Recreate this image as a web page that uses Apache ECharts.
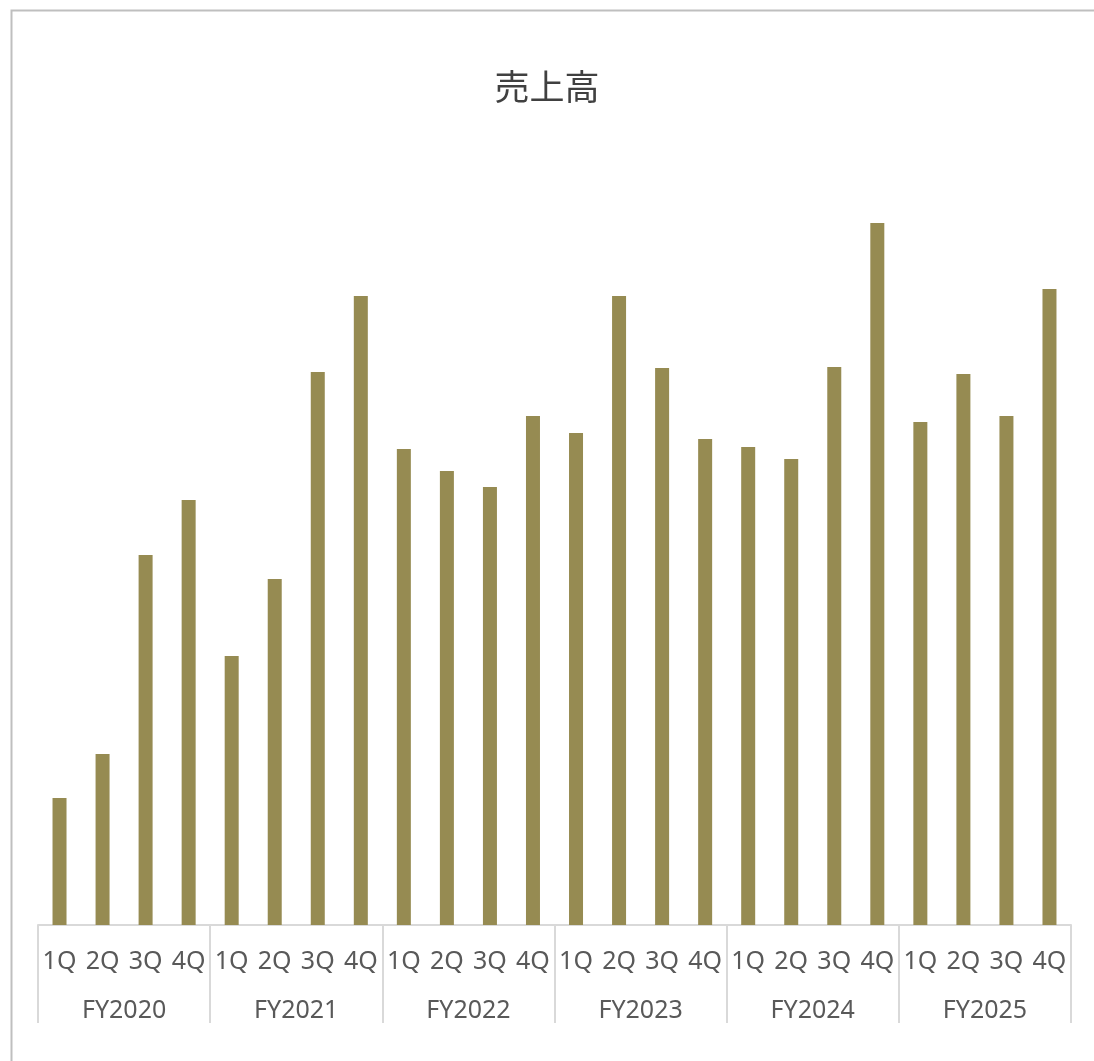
<!DOCTYPE html>
<html>
<head>
<meta charset="utf-8">
<script src="https://cdn.jsdelivr.net/npm/echarts@6/dist/echarts.min.js"></script>
<style>
  html, body { margin: 0; padding: 0; background: #fff; }
  #chart { width: 1094px; height: 1061px; }
</style>
</head>
<body>
<div id="chart"></div>
<script>
const quarters = ['1Q', '2Q', '3Q', '4Q', '1Q', '2Q', '3Q', '4Q', '1Q', '2Q', '3Q', '4Q',
  '1Q', '2Q', '3Q', '4Q', '1Q', '2Q', '3Q', '4Q', '1Q', '2Q', '3Q', '4Q']
const fiscalYears = ['FY2020', 'FY2021', 'FY2022', 'FY2023', 'FY2024', 'FY2025']
// 売上高 (relative scale)
const sales = [127, 171, 370, 425, 269, 346, 553, 629, 476, 454, 438, 509,
  492, 629, 557, 486, 478, 466, 558, 702, 503, 551, 509, 636]

const chart = echarts.init(document.getElementById('chart'))
chart.setOption({
  backgroundColor: '#fff',
  animation: false,
  title: {
    text: '売上高',
    left: 'center',
    top: 64,
    textStyle: {
      fontFamily: 'Noto Sans CJK JP',
      fontSize: 35,
      fontWeight: 'normal',
      color: '#404040'
    }
  },
  graphic: [{
    type: 'rect',
    left: 9,
    top: 8,
    shape: { width: 1200, height: 1200 },
    style: { fill: 'none', stroke: '#bfbfbf', lineWidth: 2 },
    silent: true
  }],
  grid: {
    left: 38,
    right: 23,
    top: 125,
    bottom: 136
  },
  xAxis: [{
    type: 'category',
    data: quarters,
    position: 'bottom',
    axisLine: { show: true, lineStyle: { color: '#d9d9d9', width: 2 } },
    axisTick: { show: false },
    axisLabel: {
      interval: 0,
      margin: 24,
      fontFamily: 'Noto Sans',
      fontSize: 25,
      color: '#595959'
    }
  }, {
    type: 'category',
    data: fiscalYears,
    position: 'bottom',
    axisLine: { show: false },
    axisTick: {
      show: true,
      length: 98,
      lineStyle: { color: '#d9d9d9', width: 2 }
    },
    axisLabel: {
      interval: 0,
      margin: 73,
      fontFamily: 'Noto Sans',
      fontSize: 25,
      color: '#595959'
    }
  }],
  yAxis: {
    type: 'value',
    min: 0,
    max: 800,
    show: false,
    splitLine: { show: false }
  },
  series: [{
    name: '売上高',
    type: 'bar',
    xAxisIndex: 0,
    barWidth: 14,
    itemStyle: { color: '#968b52' },
    data: sales
  }]
})
</script>
</body>
</html>
